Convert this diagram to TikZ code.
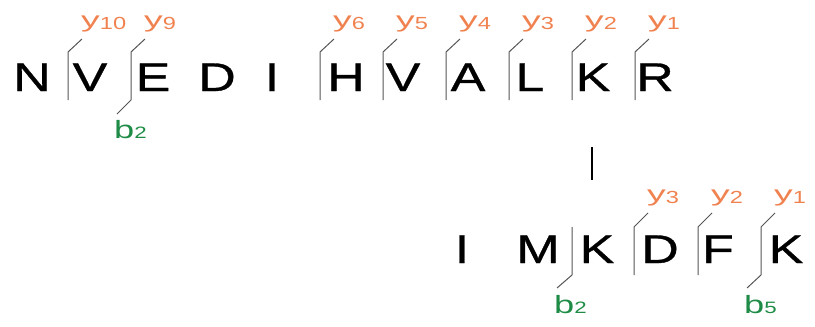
\documentclass[tikz,border=0pt]{standalone}
\usepackage{fontspec}
\setmainfont{Liberation Sans}
\newfontfamily\mainf[FakeStretch=1.3,FakeBold=0.8]{Liberation Sans}
\newfontfamily\yfam[FakeStretch=1.7]{Liberation Sans}
\newfontfamily\bfam[FakeStretch=1.45]{Liberation Sans}
\newfontfamily\dfam[FakeStretch=1.35]{Liberation Sans}
\definecolor{yorange}{RGB}{240,130,80}
\definecolor{bgreen}{RGB}{30,140,70}
\definecolor{cutgray}{RGB}{85,85,85}
\newcommand\yion[1]{{\yfam\fontsize{22}{24}\selectfont y}{\dfam\fontsize{17.5}{18}\selectfont\raisebox{-2.5pt}{#1}}}
\newcommand\bion[1]{{\bfam\fontsize{25}{27}\selectfont b}{\dfam\fontsize{16.5}{18}\selectfont #1}}
\tikzset{
  res/.style={font=\mainf\fontsize{40}{42}\selectfont, anchor=base, inner sep=0pt},
  cut/.style={draw=cutgray, line width=1pt},
  ylab/.style={text=yorange, anchor=base west, inner sep=0pt},
  blab/.style={text=bgreen, anchor=base west, inner sep=0pt},
  sep/.style={draw=black, line width=2.6pt}
}
\begin{document}
\begin{tikzpicture}[x=1pt,y=-1pt]
\useasboundingbox (0,0) rectangle (815,327);
% top peptide
\foreach \x/\l/\nm in {32/N/t1,90/V/t2,153/E/t3,217/D/t4,272/I/t5,346/H/t6,403/V/t7,468/A/t8,530/L/t9,593/K/t10,655/R/t11}
  \node[res] (\nm) at (\x,91) {\l};
% top-row y cuts
\foreach \x/\n in {68/10,131/9,320/6,383/5,446/4,509/3,572/2,635/1}{
  \draw[cut] (\x,100) -- (\x,52) -- ++(14,-13);
  \node[ylab] (ty\n) at (\x+13,27) {\yion{\n}};
}
% top-row b cut
\draw[cut] (131,100) -- ++(-14,14);
\node[blab] (tb2) at (114,138) {\bion{2}};
% separator
\coordinate (s1) at (592,147);
\coordinate (s2) at (592,180);
\draw[sep] (s1) -- (s2);
% bottom peptide
\foreach \x/\l/\nm in {462/I/u1,538/M/u2,597/K/u3,660/D/u4,718/F/u5,786/K/u6}
  \node[res] (\nm) at (\x,263) {\l};
% bottom-row y cuts
\foreach \x/\n in {634/3,698/2,761/1}{
  \draw[cut] (\x,275) -- (\x,227) -- ++(14,-14);
  \node[ylab] (uy\n) at (\x+13,201) {\yion{\n}};
}
% bottom-row b cuts
\draw[cut] (572,227) -- (572,275) -- ++(-15,13);
\node[blab] (ub2) at (554,313) {\bion{2}};
\draw[cut] (761,275) -- ++(-14,13);
\node[blab] (ub5) at (744,313) {\bion{5}};
\end{tikzpicture}
\end{document}
